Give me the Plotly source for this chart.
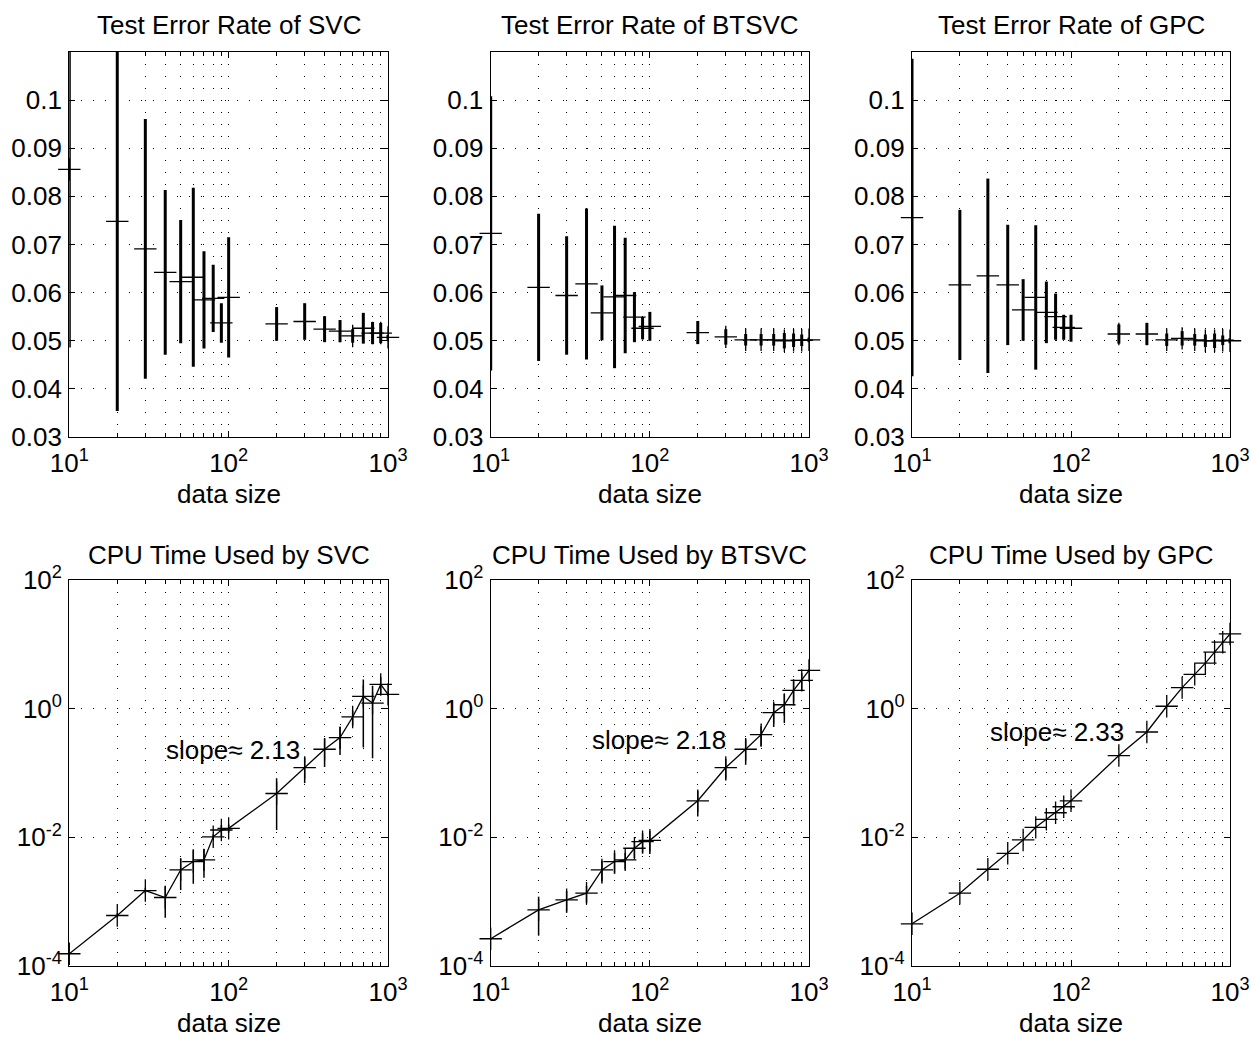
import math
import plotly.graph_objects as go

sizes = [10, 20, 30, 40, 50, 60, 70, 80, 90, 100, 200, 300, 400, 500, 600, 700, 800, 900, 1000]

svc_err_mean = [0.0856, 0.0748, 0.0691, 0.0642, 0.0623, 0.0632, 0.0585, 0.0588, 0.0537, 0.0590,
                0.0535, 0.0540, 0.0524, 0.0520, 0.0510, 0.0526, 0.0516, 0.0516, 0.0507]
svc_err_std = [0.0370, 0.0394, 0.0270, 0.0171, 0.0128, 0.0186, 0.0101, 0.0070, 0.0041, 0.0125,
               0.0035, 0.0038, 0.0027, 0.0023, 0.0014, 0.0032, 0.0023, 0.0021, 0.0005]
btsvc_err_mean = [0.0723, 0.0611, 0.0594, 0.0618, 0.0558, 0.0591, 0.0594, 0.0549, 0.0526, 0.0530,
                  0.0517, 0.0508, 0.0502, 0.0502, 0.0502, 0.0500, 0.0501, 0.0501, 0.0502]
btsvc_err_std = [0.0285, 0.0153, 0.0123, 0.0157, 0.0057, 0.0148, 0.0120, 0.0052, 0.0023, 0.0030,
                 0.0024, 0.0016, 0.0012, 0.0012, 0.0012, 0.0016, 0.0014, 0.0012, 0.0005]
gpc_err_mean = [0.0756, 0.0616, 0.0635, 0.0616, 0.0564, 0.0590, 0.0559, 0.0550, 0.0528, 0.0526,
                0.0514, 0.0514, 0.0502, 0.0505, 0.0502, 0.0500, 0.0500, 0.0501, 0.0500]
gpc_err_std = [0.0330, 0.0156, 0.0202, 0.0125, 0.0064, 0.0150, 0.0064, 0.0048, 0.0026, 0.0028,
               0.0020, 0.0023, 0.0013, 0.0015, 0.0012, 0.0013, 0.0015, 0.0010, 0.0005]

svc_cpu = [1.55e-4, 6.1e-4, 1.49e-3, 1.16e-3, 3.12e-3, 4.2e-3, 4.46e-3, 0.0102, 0.013, 0.0138,
           0.048, 0.1216, 0.234, 0.355, 0.743, 1.55, 1.22, 2.38, 1.67]
svc_cpu_std = [1e-5, 5e-5, 1.5e-4, 6e-4, 1.6e-3, 2.3e-3, 2.1e-3, 1e-3, 2.5e-3, 2e-3,
               0.035, 0.052, 0.11, 0.165, 0.2, 1.3, 1.05, 0.7, 0.1]
btsvc_cpu = [2.65e-4, 7.46e-4, 1.07e-3, 1.36e-3, 3.12e-3, 4.2e-3, 4.46e-3, 6.76e-3, 8.57e-3, 9.0e-3,
             0.037, 0.1216, 0.234, 0.395, 0.867, 1.15, 1.92, 2.75, 3.93]
btsvc_cpu_std = [1e-5, 4.5e-4, 4e-4, 4e-4, 1.2e-3, 1.5e-3, 1.3e-3, 2e-3, 3e-3, 3.5e-3,
                 0.016, 0.045, 0.1, 0.14, 0.35, 0.55, 0.8, 0.85, 0.2]
gpc_cpu = [4.53e-4, 1.355e-3, 3.19e-3, 5.65e-3, 9.1e-3, 0.0143, 0.019, 0.0241, 0.0299, 0.037,
           0.1866, 0.434, 1.09, 2.12, 3.41, 5.1, 7.56, 10.8, 14.5]
gpc_cpu_std = [1e-5, 3e-5, 6e-5, 1e-4, 2e-4, 3e-4, 4e-4, 5e-4, 6e-4, 8e-4,
               4e-3, 9e-3, 0.02, 0.04, 0.07, 0.1, 0.15, 0.2, 0.3]

top_titles = ["Test Error Rate of SVC", "Test Error Rate of BTSVC", "Test Error Rate of GPC"]
bottom_titles = ["CPU Time Used by SVC", "CPU Time Used by BTSVC", "CPU Time Used by GPC"]
slope_texts = ["slope\u2248 2.13", "slope\u2248 2.18", "slope\u2248 2.33"]
slope_x = [39.3, 42, 30]
slope_y = [0.226, 0.323, 0.434]

x_major = [10, 100, 1000]
x_major_text = ["10<sup>1</sup>", "10<sup>2</sup>", "10<sup>3</sup>"]
x_minor = [20, 30, 40, 50, 60, 70, 80, 90, 200, 300, 400, 500, 600, 700, 800, 900]
err_ticks = [0.03, 0.04, 0.05, 0.06, 0.07, 0.08, 0.09, 0.1]
err_ticktext = ["0.03", "0.04", "0.05", "0.06", "0.07", "0.08", "0.09", "0.1"]
cpu_ticks = [1e-4, 1e-2, 1, 100]
cpu_ticktext = ["10<sup>-4</sup>", "10<sup>-2</sup>", "10<sup>0</sup>", "10<sup>2</sup>"]

err_means = [svc_err_mean, btsvc_err_mean, gpc_err_mean]
err_stds = [svc_err_std, btsvc_err_std, gpc_err_std]
cpu_means = [svc_cpu, btsvc_cpu, gpc_cpu]
cpu_stds = [svc_cpu_std, btsvc_cpu_std, gpc_cpu_std]

W, H = 1252, 1037
FONT = "Liberation Sans, Arial, Helvetica, sans-serif"
FS = 26

xdom_px = [(69.3, 388.0), (490.7, 809.0), (912.0, 1230.0)]
top_px = (52.0, 437.0)
bot_px = (580.0, 966.0)


def px2x(a):
    return a / W


def px2y(b):
    return 1 - b / H


GRID_DASH = "1px,11px"
grid_style = dict(showgrid=True, gridcolor="black", gridwidth=1, griddash=GRID_DASH)
tick_style = dict(ticks="inside", ticklen=6, tickcolor="black", tickwidth=1)
line_style = dict(showline=True, linecolor="black", linewidth=1.3, mirror="allticks",
                  zeroline=False, automargin=False)

fig = go.Figure()
layout = dict(
    width=W, height=H, margin=dict(l=0, r=0, t=0, b=0, autoexpand=False),
    paper_bgcolor="white", plot_bgcolor="white", showlegend=False,
    font=dict(family=FONT, size=FS, color="black"),
)
annotations = []

for i in range(3):
    idx_t = i + 1
    idx_b = i + 4
    xa_t = "xaxis" if idx_t == 1 else f"xaxis{idx_t}"
    ya_t = "yaxis" if idx_t == 1 else f"yaxis{idx_t}"
    xa_b = f"xaxis{idx_b}"
    ya_b = f"yaxis{idx_b}"
    xref_t = "x" if idx_t == 1 else f"x{idx_t}"
    yref_t = "y" if idx_t == 1 else f"y{idx_t}"
    xref_b = f"x{idx_b}"
    yref_b = f"y{idx_b}"

    xd = [px2x(xdom_px[i][0]), px2x(xdom_px[i][1])]
    common_x = dict(
        type="log", range=[1, 3], domain=xd, tickmode="array",
        tickvals=x_major, ticktext=x_major_text, tickangle=0,
        minor=dict(tickmode="array", tickvals=x_minor, ticks="inside", ticklen=4,
                   tickcolor="black", **grid_style),
        tickfont=dict(size=FS, family=FONT), ticklabelstandoff=3,
        **grid_style, **tick_style, **line_style,
    )
    layout[xa_t] = dict(common_x, anchor=yref_t)
    layout[xa_b] = dict(common_x, anchor=yref_b)

    layout[ya_t] = dict(
        range=[0.03, 0.11], domain=[px2y(top_px[1]), px2y(top_px[0])], anchor=xref_t,
        tickmode="array", tickvals=err_ticks, ticktext=err_ticktext,
        minor=dict(tickmode="array", tickvals=[0.11], ticks="", **grid_style),
        tickfont=dict(size=FS, family=FONT), ticklabelstandoff=1,
        **grid_style, **tick_style, **line_style,
    )
    layout[ya_b] = dict(
        type="log", range=[-4, 2], domain=[px2y(bot_px[1]), px2y(bot_px[0])], anchor=xref_b,
        tickmode="array", tickvals=cpu_ticks, ticktext=cpu_ticktext,
        tickfont=dict(size=FS, family=FONT), ticklabelstandoff=1,
        **grid_style, **tick_style, **line_style,
    )

    fig.add_trace(go.Scatter(
        x=sizes, y=err_means[i], mode="lines", line=dict(width=0, color="black"),
        error_y=dict(type="data", array=err_stds[i], visible=True, color="black",
                     thickness=3, width=0),
        xaxis=xref_t, yaxis=yref_t, hoverinfo="skip",
    ))
    fig.add_trace(go.Scatter(
        x=sizes, y=err_means[i], mode="markers",
        marker=dict(symbol="cross-thin", size=16, color="black",
                    line=dict(width=1.3, color="black")),
        xaxis=xref_t, yaxis=yref_t, cliponaxis=False,
    ))

    fig.add_trace(go.Scatter(
        x=sizes, y=cpu_means[i], mode="lines", line=dict(width=1.3, color="black"),
        error_y=dict(type="data", array=cpu_stds[i], visible=True, color="black",
                     thickness=1.5, width=0),
        xaxis=xref_b, yaxis=yref_b, hoverinfo="skip",
    ))
    fig.add_trace(go.Scatter(
        x=sizes, y=cpu_means[i], mode="markers",
        marker=dict(symbol="cross-thin", size=16, color="black",
                    line=dict(width=1.3, color="black")),
        xaxis=xref_b, yaxis=yref_b, cliponaxis=False,
    ))

    cx = px2x((xdom_px[i][0] + xdom_px[i][1]) / 2)
    for txt, ypx in [(top_titles[i], 25), (bottom_titles[i], 555),
                     ("data size", 494), ("data size", 1023)]:
        annotations.append(dict(text=txt, x=cx, y=px2y(ypx), xref="paper", yref="paper",
                                showarrow=False, xanchor="center", yanchor="middle",
                                font=dict(size=FS, family=FONT)))
    annotations.append(dict(text=slope_texts[i], x=math.log10(slope_x[i]),
                            y=math.log10(slope_y[i]),
                            xref=xref_b, yref=yref_b, showarrow=False,
                            xanchor="left", yanchor="middle",
                            font=dict(size=FS, family=FONT)))

layout["annotations"] = annotations
fig.update_layout(**layout)
fig.write_html("out.html")
